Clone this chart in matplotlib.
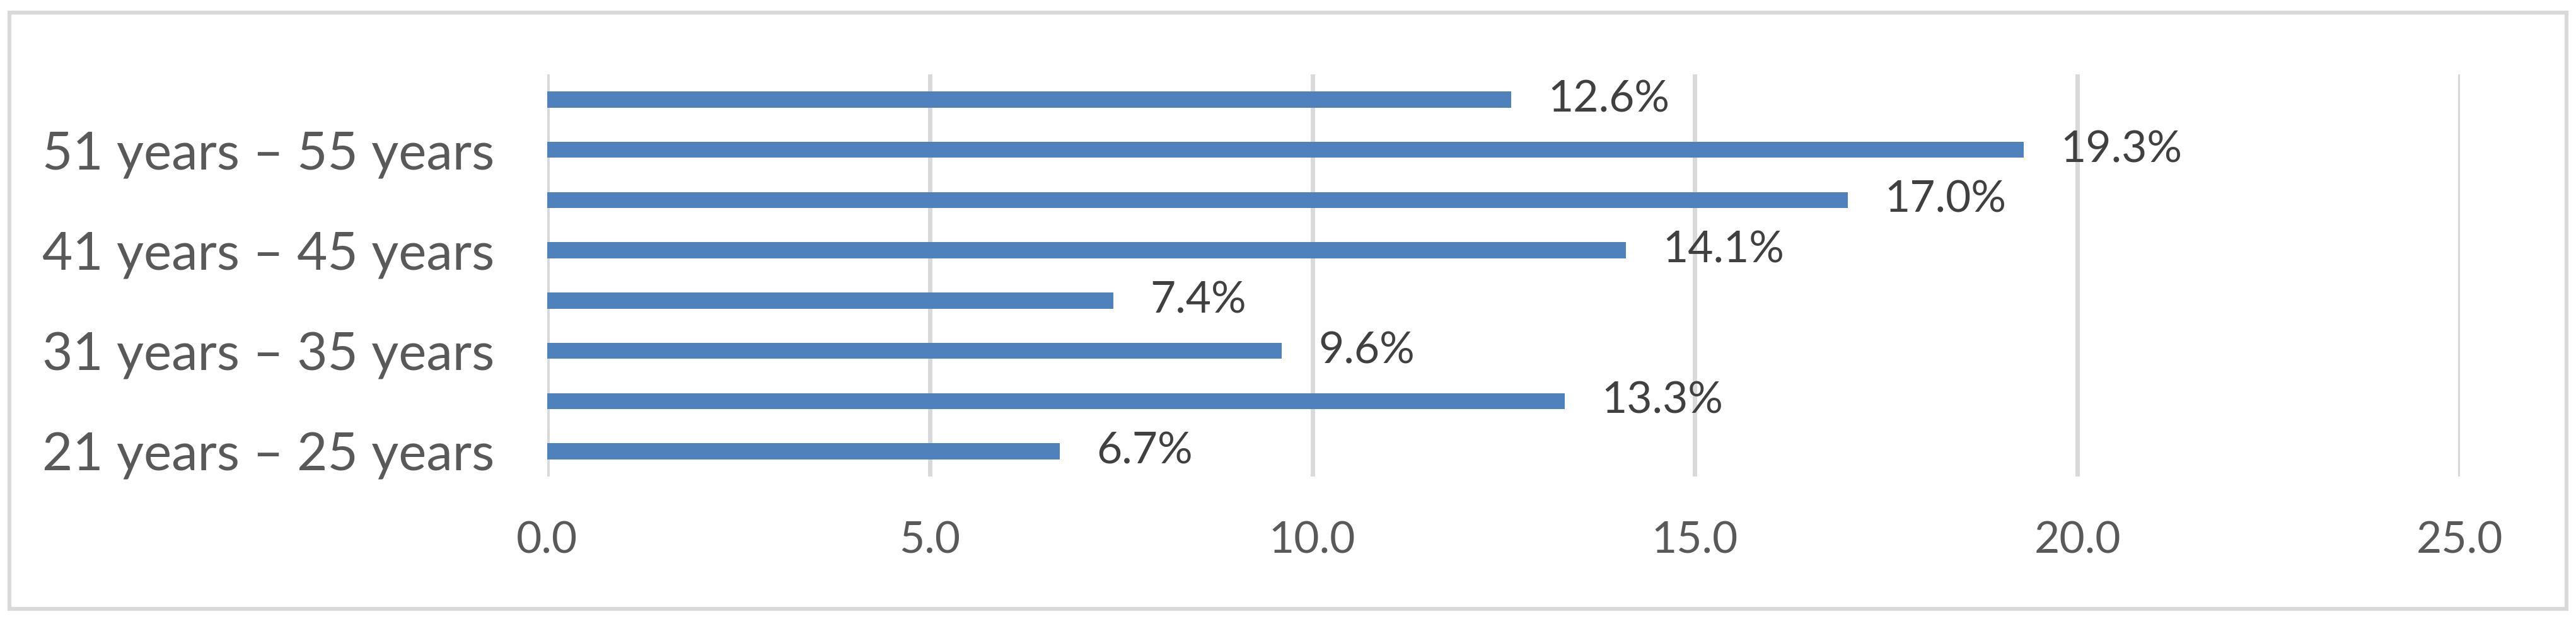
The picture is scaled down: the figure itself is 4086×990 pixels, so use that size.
import matplotlib
matplotlib.use("Agg")
import matplotlib.pyplot as plt
from matplotlib.patches import Rectangle
import numpy as np

plt.rcParams['font.family'] = ['Lato', 'DejaVu Sans']

categories = ["21 years \u2013 25 years", "26 years \u2013 30 years", "31 years \u2013 35 years",
              "36 years \u2013 40 years", "41 years \u2013 45 years", "46 years \u2013 50 years",
              "51 years \u2013 55 years", "56 years \u2013 60 years"]
values = [6.7, 13.3, 9.6, 7.4, 14.1, 17.0, 19.3, 12.6]
x_ticks = [0.0, 5.0, 10.0, 15.0, 20.0, 25.0]

W, H = 4087, 990
fig = plt.figure(figsize=(W / 100, H / 100), dpi=100)
fig.patch.set_facecolor("white")

# outer chart frame
fig.patches.append(Rectangle((15 / W, (H - 966) / H), (4071 - 15) / W, (966 - 20) / H,
                             transform=fig.transFigure, fill=False,
                             edgecolor="#D9D9D9", linewidth=4.5, zorder=0))

left, right = 868 / W, 3902 / W
bottom, top = 1 - 756 / H, 1 - 118 / H
ax = fig.add_axes([left, bottom, right - left, top - bottom])

pos = np.arange(len(categories))
ax.barh(pos, values, height=0.32, color="#4F81BD", zorder=3)

ax.set_xlim(0, 25)
ax.set_ylim(-0.5, len(categories) - 0.5)
ax.set_xticks(x_ticks)
ax.set_xticklabels([f"{t:.1f}" for t in x_ticks])
ax.set_yticks(pos[::2])
ax.set_yticklabels(categories[::2])

for s in ax.spines.values():
    s.set_visible(False)
ax.grid(axis="x", color="#D9D9D9", linewidth=5, zorder=0)
ax.axvline(0, color="#D9D9D9", linewidth=5, zorder=1)
ax.tick_params(axis="x", length=0, pad=51, labelsize=50, labelcolor="#595959")
ax.tick_params(axis="y", length=0, pad=60, labelsize=60, labelcolor="#595959")

for p, v in zip(pos, values):
    ax.annotate(f"{v:.1f}%", xy=(v, p), xytext=(42, 0), textcoords="offset points",
                va="center", ha="left", fontsize=50, color="#404040")

fig.savefig("out.png", dpi=100, facecolor="white")
